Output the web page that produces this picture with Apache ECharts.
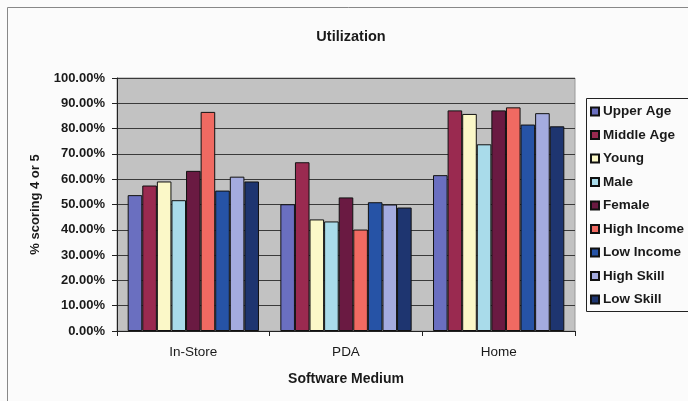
<!DOCTYPE html>
<html>
<head>
<meta charset="utf-8">
<script src="https://cdn.jsdelivr.net/npm/echarts@6/dist/echarts.min.js"></script>
<style>
html,body{margin:0;padding:0;background:#fbfbfb;}
#chart{width:688px;height:401px;}
</style>
</head>
<body>
<div id="chart"></div>
<script>
// Utilization survey: share of respondents scoring 4 or 5, by software medium
const categories = ['In-Store', 'PDA', 'Home'];
const seriesNames = ['Upper Age', 'Middle Age', 'Young', 'Male', 'Female',
  'High Income', 'Low Income', 'High Skill', 'Low Skill'];
const upperAge   = [53.7, 50.1, 61.6];
const middleAge  = [57.5, 66.7, 87.2];
const young      = [59.1, 44.1, 85.8];
const male       = [51.7, 43.3, 73.8];
const female     = [63.3, 52.8, 87.2];
const highIncome = [86.6, 40.1, 88.4];
const lowIncome  = [55.5, 50.9, 81.6];
const highSkill  = [61.0, 50.0, 86.1];
const lowSkill   = [59.1, 48.8, 80.9];
const yTicks = [0, 10, 20, 30, 40, 50, 60, 70, 80, 90, 100];

const values = [upperAge, middleAge, young, male, female, highIncome, lowIncome, highSkill, lowSkill];
const colors = ['#6a6fc0', '#9a2a50', '#fbf8c8', '#a9dbea', '#6a1a42',
  '#f06a62', '#2653a6', '#a4abdf', '#1e3570'];

const font = '"Liberation Sans", Arial, sans-serif';

const chart = echarts.init(document.getElementById('chart'));
chart.setOption({
  animation: false,
  backgroundColor: '#fbfbfb',
  textStyle: { fontFamily: font },
  title: {
    text: 'Utilization',
    left: 346, top: 24, textAlign: 'center',
    textStyle: { fontSize: 14.5, fontWeight: 'bold', color: '#1a1a1a', fontFamily: font }
  },
  graphic: [
    { type: 'rect', shape: { x: 7.5, y: 7.5, width: 700, height: 420 },
      style: { fill: 'none', stroke: '#888', lineWidth: 1 }, z: -1 },
    { type: 'rect', shape: { x: 586.5, y: 98.5, width: 110, height: 213 },
      style: { fill: 'none', stroke: '#222', lineWidth: 1 }, z: 5 }
  ],
  legend: {
    orient: 'vertical',
    left: 590, top: 104,
    padding: 0,
    itemWidth: 8, itemHeight: 8, itemGap: 8.5,
    icon: 'rect',
    textStyle: { fontSize: 13.5, fontWeight: 'bold', color: '#1a1a1a', lineHeight: 15, padding: [0, 0, 0, -1], fontFamily: font },
    data: seriesNames
  },
  grid: { left: 117, right: 113, top: 78, bottom: 70, show: true,
    backgroundColor: '#c2c2c2', borderColor: '#999', borderWidth: 1 },
  xAxis: {
    type: 'category',
    data: categories,
    name: 'Software Medium',
    nameLocation: 'middle', nameGap: 41,
    nameTextStyle: { fontSize: 14, fontWeight: 'bold', color: '#1a1a1a' },
    axisLine: { lineStyle: { color: '#222', width: 1 } },
    axisTick: { show: true, alignWithLabel: false, length: 5, lineStyle: { color: '#222' } },
    axisLabel: { fontSize: 13.5, color: '#1a1a1a', margin: 14 }
  },
  yAxis: {
    type: 'value',
    min: 0, max: 100, interval: 10,
    name: '% scoring 4 or 5',
    nameLocation: 'middle', nameGap: 75,
    nameTextStyle: { fontSize: 13, fontWeight: 'bold', color: '#1a1a1a' },
    axisLine: { show: true, lineStyle: { color: '#222' } },
    axisTick: { show: true, length: 5, lineStyle: { color: '#222' } },
    axisLabel: { fontSize: 13, fontWeight: 'bold', color: '#1a1a1a', margin: 12,
      formatter: v => yTicks.includes(v) ? v.toFixed(2) + '%' : '' },
    splitLine: { lineStyle: { color: '#3a3a3a', width: 1 } }
  },
  series: seriesNames.map((name, i) => ({
    name: name,
    type: 'bar',
    data: values[i],
    barGap: '0%',
    barCategoryGap: '14%',
    itemStyle: { color: colors[i], borderColor: '#111', borderWidth: 1 }
  }))
});
</script>
</body>
</html>
